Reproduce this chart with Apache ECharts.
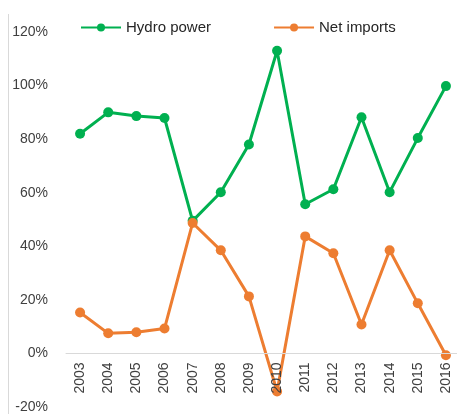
<!DOCTYPE html>
<html>
<head>
<meta charset="utf-8">
<script src="https://cdn.jsdelivr.net/npm/echarts@6/dist/echarts.min.js"></script>
<style>
  html, body { margin: 0; padding: 0; background: #fff; }
  #chart { width: 457px; height: 414px; }
</style>
</head>
<body>
<div id="chart"></div>
<script>
  var years = ['2003', '2004', '2005', '2006', '2007', '2008', '2009', '2010', '2011', '2012', '2013', '2014', '2015', '2016'];
  var hydroPower = [82, 90, 88.6, 87.9, 49.5, 60.2, 78, 113, 55.7, 61.3, 88.2, 60.2, 80.4, 99.8];
  var netImports = [15.3, 7.5, 7.9, 9.3, 48.7, 38.5, 21.3, -14.2, 43.7, 37.4, 10.8, 38.5, 18.7, -0.7];

  var myChart = echarts.init(document.getElementById('chart'));

  var option = {
    animation: false,
    textStyle: { fontFamily: 'Liberation Sans' },
    legend: {
      top: 15,
      left: 75,
      itemWidth: 40,
      itemHeight: 10,
      itemGap: 62,
      textStyle: { fontSize: 15, color: '#262626' },
      data: ['Hydro power', 'Net imports']
    },
    grid: {
      left: 66,
      top: 32,
      width: 394,
      height: 375,
      outerBoundsMode: 'none'
    },
    xAxis: {
      type: 'category',
      data: years,
      offset: -53.6,
      z: 5,
      axisLine: { onZero: false, lineStyle: { color: '#d9d9d9', width: 1 } },
      axisTick: { show: false },
      axisLabel: { rotate: 90, color: '#404040', fontSize: 14, margin: 9, interval: 0 }
    },
    yAxis: {
      type: 'value',
      min: -20,
      max: 120,
      interval: 20,
      splitLine: { show: false },
      axisLine: { show: false },
      axisTick: { show: false },
      axisLabel: {
        color: '#404040',
        fontSize: 14,
        margin: 18,
        formatter: function (v) { return v + '%'; }
      }
    },
    series: [
      {
        name: 'Hydro power',
        type: 'line',
        data: hydroPower,
        symbol: 'circle',
        symbolSize: 10,
        lineStyle: { color: '#00B050', width: 3 },
        itemStyle: { color: '#00B050' }
      },
      {
        name: 'Net imports',
        type: 'line',
        data: netImports,
        symbol: 'circle',
        symbolSize: 10,
        lineStyle: { color: '#ED7D31', width: 3 },
        itemStyle: { color: '#ED7D31' }
      }
    ],
    graphic: [
      {
        type: 'line',
        shape: { x1: 8.5, y1: 14, x2: 8.5, y2: 414 },
        style: { stroke: '#d9d9d9', lineWidth: 1 }
      }
    ]
  };

  myChart.setOption(option);
</script>
</body>
</html>
